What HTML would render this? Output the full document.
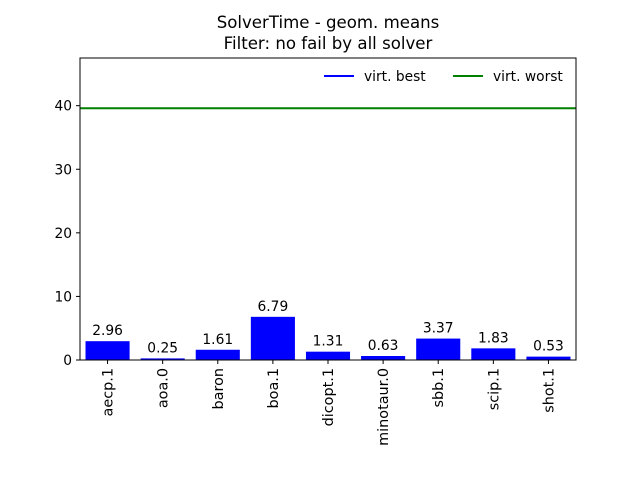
<!DOCTYPE html>
<html><head><meta charset="utf-8"><style>
body{margin:0;background:#fff;font-family:"Liberation Sans","DejaVu Sans",sans-serif;}
svg text{font-family:"DejaVu Sans","Liberation Sans",sans-serif;fill:#000;}
</style></head><body>
<svg width="640" height="480" xmlns="http://www.w3.org/2000/svg">
<rect width="640" height="480" fill="#fff"/>
<text x="328" y="28" font-size="16.6" text-anchor="middle">SolverTime - geom. means</text>
<text x="328" y="49" font-size="16.6" text-anchor="middle">Filter: no fail by all solver</text>
<g id="plot"></g>
</svg>
<script>
const categories=["aecp.1","aoa.0","baron","boa.1","dicopt.1","minotaur.0","sbb.1","scip.1","shot.1"];
const values=[2.96,0.25,1.61,6.79,1.31,0.63,3.37,1.83,0.53];
const labels=["2.96","0.25","1.61","6.79","1.31","0.63","3.37","1.83","0.53"];
const yTicks=[0,10,20,30,40];
const virtBest=[0.25];
const virtWorst=[39.6];
const L=80,R=576,T=58,B=360,YMAX=47.5;
const ns="http://www.w3.org/2000/svg";
const g=document.getElementById('plot');
function y(v){return B-(v/YMAX)*(B-T);}
const slot=(R-L)/categories.length;
function x(i){return L+slot*(i+0.5);}
function el(t,a){const e=document.createElementNS(ns,t);for(const k in a)e.setAttribute(k,a[k]);g.appendChild(e);return e;}
categories.forEach((c,i)=>{
 const bw=slot*0.8;
 const r=el('rect',{x:x(i)-bw/2,y:y(values[i]),width:bw,height:B-y(values[i]),fill:'#0000ff'});
 
 
 const t=el('text',{x:x(i),y:y(values[i])-6,'font-size':13.8,'text-anchor':'middle'});
 t.textContent=labels[i];
 
 
 el('line',{x1:x(i),x2:x(i),y1:B,y2:B+4,stroke:'#000','stroke-width':1});
 const xt=el('text',{'font-size':14.4,'text-anchor':'end',transform:`translate(${x(i)+5},${B+8}) rotate(-90)`});
 xt.textContent=c;
 
 
});
const wl=el('line',{x1:L,x2:R,y1:y(virtWorst[0]),y2:y(virtWorst[0]),stroke:'#008000','stroke-width':2});


yTicks.forEach(v=>{
 el('line',{x1:L-4,x2:L,y1:y(v),y2:y(v),stroke:'#000','stroke-width':1});
 const t=el('text',{x:L-8,y:y(v)+5,'font-size':13.8,'text-anchor':'end'});
 t.textContent=v;
 
 
});
const fr=el('rect',{x:L,y:T,width:R-L,height:B-T,fill:'none',stroke:'#000','stroke-width':1});


const lg=[["virt. best","#0000ff",324],["virt. worst","#008000",453]];
lg.forEach(([n,c,x1])=>{
 el('line',{x1:x1,x2:x1+30,y1:76,y2:76,stroke:c,'stroke-width':2});
 const t=el('text',{x:x1+40,y:81,'font-size':13.8});
 t.textContent=n;
 
 
});
</script>
</body></html>
